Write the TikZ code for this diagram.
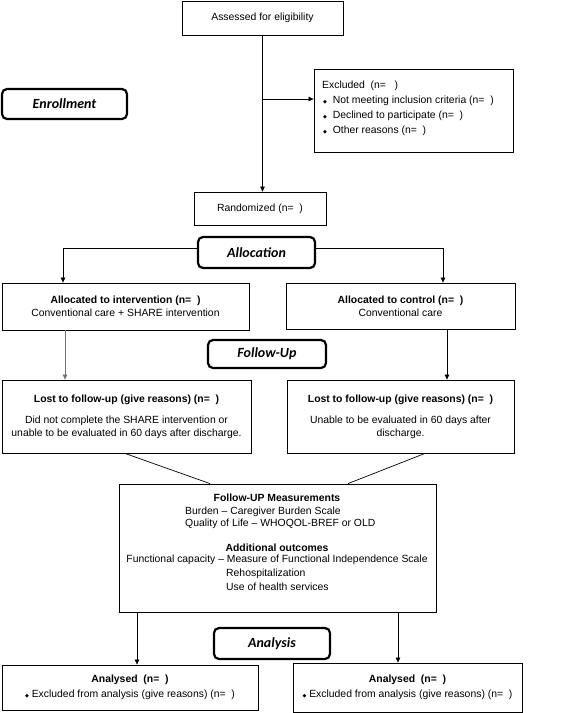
\documentclass[tikz,border=0pt]{standalone}
\usepackage{fontspec}
\setmainfont{Liberation Sans}
\newfontfamily\labfont{Carlito}
\newfontfamily\dvfont{DejaVu Sans}
\usetikzlibrary{arrows.meta}
\newcommand\dia{{\dvfont\fontsize{5}{5}\selectfont ◆}}
\begin{document}
\begin{tikzpicture}[x=1pt,y=-1pt,
  box/.style={draw, line width=0.8pt, inner sep=2pt, align=center, font=\fontsize{10.4}{12.6}\selectfont},
  txt/.style={inner sep=0pt, font=\fontsize{10.4}{12.6}\selectfont},
  lab/.style={draw, line width=2.2pt, rounded corners=5pt, inner sep=0pt, font=\labfont\bfseries\itshape\fontsize{14}{16}\selectfont},
  arr/.style={-{Triangle[length=5pt,width=4.5pt]}, line width=0.7pt},
  ln/.style={line width=0.7pt}]
\useasboundingbox (0,0) rectangle (569,713);
% boxes
\node[box, minimum width=161pt, minimum height=34pt] (assess) at (262.5,18) {Assessed for eligibility};
\node[box, minimum width=199pt, minimum height=83pt] (excl) at (413.5,110.5) {};
\node[txt, anchor=north west, align=left, font=\fontsize{10.4}{15}\selectfont] (excltxt) at (322,80.5)
  {Excluded\ \ (n=\ \ \ )\\
   \hspace{1pt}\dia\ \ Not meeting inclusion criteria (n=\ \ )\\
   \hspace{1pt}\dia\ \ Declined to participate (n=\ \ )\\
   \hspace{1pt}\dia\ \ Other reasons (n=\ \ )};
\node[lab, minimum width=125pt, minimum height=30pt] (enroll) at (64.5,104) {Enrollment};
\node[box, minimum width=132pt, minimum height=33pt] (rand) at (260,208.5) {Randomized (n=\ \ )};
\node[lab, minimum width=117pt, minimum height=31pt] (alloclab) at (256.5,252.5) {Allocation};
\node[box, minimum width=247pt, minimum height=47pt] (allocL) at (125.5,306.5)
  {\textbf{Allocated to intervention (n=\ \ )}\\Conventional care + SHARE intervention};
\node[box, minimum width=229pt, minimum height=46pt] (allocR) at (400.5,306)
  {\textbf{Allocated to control (n=\ \ )}\\Conventional care};
\node[lab, minimum width=118pt, minimum height=28pt] (follab) at (267,354) {Follow-Up};
\node[box, minimum width=249pt, minimum height=73pt] (lostL) at (126.5,416.5)
  {\textbf{Lost to follow-up (give reasons) (n=\ \ )}\\[9pt]Did not complete the SHARE intervention or\\unable to be evaluated in 60 days after discharge.};
\node[box, minimum width=227pt, minimum height=73pt] (lostR) at (400.5,416.5)
  {\textbf{Lost to follow-up (give reasons) (n=\ \ )}\\[9pt]Unable to be evaluated in 60 days after\\discharge.};
\node[box, minimum width=317pt, minimum height=128pt] (meas) at (277.5,548) {};
\node[txt, anchor=base] (m1) at (277,501) {\textbf{Follow-UP Measurements}};
\node[txt, anchor=base west] (m2) at (185,514) {Burden -- Caregiver Burden Scale};
\node[txt, anchor=base west] (m3) at (185,526) {Quality of Life -- WHOQOL-BREF or OLD};
\node[txt, anchor=base] (m4) at (277,551) {\textbf{Additional outcomes}};
\node[txt, anchor=base] (m5) at (277,562) {Functional capacity -- Measure of Functional Independence Scale};
\node[txt, anchor=base west] (m6) at (226,576) {Rehospitalization};
\node[txt, anchor=base west] (m7) at (226,590) {Use of health services};
\node[lab, minimum width=116pt, minimum height=31pt] (anlab) at (272,643.5) {Analysis};
\node[box, minimum width=256pt, minimum height=45pt] (anL) at (130,687.5)
  {\textbf{Analysed\ \ (n=\ \ )}\\[2pt]\dia\ Excluded from analysis (give reasons) (n=\ \ )};
\node[box, minimum width=229pt, minimum height=49pt] (anR) at (407.5,687.5)
  {\textbf{Analysed\ \ (n=\ \ )}\\[2pt]\dia\ Excluded from analysis (give reasons) (n=\ \ )};
% connectors
\draw[arr] (assess.south) -- (assess.south |- rand.north);
\coordinate (j) at (262.5,99);
\draw[arr] (j) -- (j -| excl.west);
\draw[arr] (alloclab.west |- 0,248) -| ([xshift=-62.5pt]allocL.north);
\draw[arr] (alloclab.east |- 0,248) -| ([xshift=42.5pt]allocR.north);
\draw[arr, draw=black!55] ([xshift=-60.5pt]allocL.south) -- ([xshift=-60.5pt]allocL.south |- lostL.north);
\draw[arr] ([xshift=46.5pt]allocR.south) -- ([xshift=46.5pt]allocR.south |- lostR.north);
\draw[ln] ([xshift=-1.5pt]lostL.south) -- ([xshift=-67.5pt]meas.north);
\draw[ln] ([xshift=24.5pt]lostR.south) -- ([xshift=70.5pt]meas.north);
\draw[arr] ([xshift=-140.5pt]meas.south) -- ([xshift=-140.5pt]meas.south |- anL.north);
\draw[arr] ([xshift=120.5pt]meas.south) -- ([xshift=120.5pt]meas.south |- anR.north);
\end{tikzpicture}
\end{document}
